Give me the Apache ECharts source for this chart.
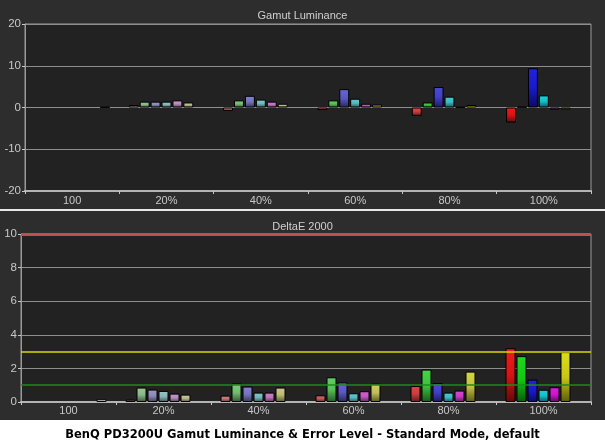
<!DOCTYPE html>
<html><head><meta charset="utf-8">
<script src="https://cdn.jsdelivr.net/npm/echarts@6/dist/echarts.min.js"></script>
<style>html,body{margin:0;padding:0;background:#2d2d2d;}#c{width:605px;height:441px;}</style>
</head><body><div id="c"></div>
<script>
// ---- data ----
const categories = ['100', '20%', '40%', '60%', '80%', '100%'];
const seriesNames = ['Red', 'Green', 'Blue', 'Cyan', 'Magenta', 'Yellow', 'White'];

// Gamut luminance error (%)
const lumRed     = [null, 0.6, -0.8, -0.6, -2.0, -3.6];
const lumGreen   = [null, 1.4, 1.7, 1.7, 1.2, 0.15];
const lumBlue    = [null, 1.4, 2.8, 4.4, 4.9, 9.4];
const lumCyan    = [null, 1.4, 1.9, 2.1, 2.6, 2.9];
const lumMagenta = [null, 1.7, 1.4, 0.9, 0.1, -0.5];
const lumYellow  = [null, 1.2, 0.9, 0.7, 0.6, -0.45];
const lumWhite   = [0.1, null, null, null, null, null];

// DeltaE 2000
const deRed     = [null, 0.14, 0.38, 0.40, 0.95, 3.20];
const deGreen   = [null, 0.86, 1.10, 1.47, 1.93, 2.73];
const deBlue    = [null, 0.74, 0.92, 1.17, 1.13, 1.33];
const deCyan    = [null, 0.66, 0.56, 0.52, 0.56, 0.73];
const deMagenta = [null, 0.50, 0.56, 0.64, 0.68, 0.88];
const deYellow  = [null, 0.44, 0.86, 1.09, 1.81, 2.97];
const deWhite   = [0.16, null, null, null, null, null];

const lumTicks = [-20, -10, 0, 10, 20];
const deThresholds = [1, 3, 10];

// ---- styling ----
const baseColors = [[215,20,20],[20,200,20],[25,25,205],[20,190,200],[205,20,205],[200,200,20],[230,230,230]];
const satLevel = [0, 0.26, 0.4, 0.58, 0.75, 1];
const grayBase = [178,178,178];
function rgb(a){return 'rgb('+a.map(v=>Math.round(Math.max(0,Math.min(255,v)))).join(',')+')';}
function barColor(si, ci){
  const b = baseColors[si];
  const t = si === 6 ? 1 : satLevel[ci];
  const c = b.map((v,k)=>grayBase[k]+(v-grayBase[k])*t);
  return {type:'linear',x:0,y:0,x2:0,y2:1,colorStops:[
    {offset:0,color:rgb(c.map(v=>v*1.05+8))},
    {offset:0.5,color:rgb(c)},
    {offset:1,color:rgb(c.map(v=>v*0.45))}]};
}
function build(arr, si){
  return arr.map((v,ci)=> v===null ? null : {value:v, itemStyle:{color:barColor(si,ci)}});
}

const lumSeries = [lumRed,lumGreen,lumBlue,lumCyan,lumMagenta,lumYellow,lumWhite];
const deSeries = [deRed,deGreen,deBlue,deCyan,deMagenta,deYellow,deWhite];

const font = 'Liberation Sans';
const labelColor = '#c8c8c8';
const series = [];
lumSeries.forEach((arr,si)=>{
  series.push({type:'bar', name:seriesNames[si], xAxisIndex:0, yAxisIndex:0,
    data:build(arr,si), barCategoryGap:'20%', barGap:'10%',
    itemStyle:{borderColor:'#000',borderWidth:1}, silent:true});
});
deSeries.forEach((arr,si)=>{
  const s = {type:'bar', name:seriesNames[si], xAxisIndex:1, yAxisIndex:1,
    data:build(arr,si), barCategoryGap:'20%', barGap:'10%',
    itemStyle:{borderColor:'#000',borderWidth:1}, silent:true};
  if(si===0){
    const cols = ['#1d8a1d','#d8d800','#c05050'];
    const widths = [1.5,1.5,3];
    s.markLine = {silent:true, symbol:'none', label:{show:false}, animation:false,
      data: deThresholds.map((v,i)=>({yAxis:v, lineStyle:{color:cols[i], width:widths[i], type:'solid'}}))};
  }
  series.push(s);
});

const chart = echarts.init(document.getElementById('c'));
chart.setOption({
  animation:false,
  backgroundColor:'#2d2d2d',
  title:[
    {text:'Gamut Luminance', left:'center', top:5, textStyle:{color:'#d0d0d0',fontSize:11,fontWeight:'normal',fontFamily:font}},
    {text:'DeltaE 2000', left:'center', top:216, textStyle:{color:'#d0d0d0',fontSize:11,fontWeight:'normal',fontFamily:font}},
    {text:'BenQ PD3200U Gamut Luminance & Error Level - Standard Mode, default', left:'center', top:424,
      textStyle:{color:'#000',fontSize:11.5,fontWeight:'bold',fontFamily:'DejaVu Sans'}}
  ],
  graphic:[
    {type:'rect', shape:{x:0,y:420,width:605,height:21}, style:{fill:'#ffffff'}, z:-10, silent:true},
    {type:'line', shape:{x1:0,y1:210,x2:605,y2:210}, style:{stroke:'#e8e8e8',lineWidth:2}, silent:true}
  ],
  grid:[
    {left:25, right:14, top:24, height:167, show:true, backgroundColor:'#222222', borderColor:'#9a9a9a', borderWidth:1},
    {left:21, right:14, top:234, height:168, show:true, backgroundColor:'#222222', borderColor:'#9a9a9a', borderWidth:1}
  ],
  xAxis:[
    {type:'category', gridIndex:0, data:categories, position:'bottom',
      axisLine:{onZero:false, lineStyle:{color:'#b4b4b4', width:2}},
      axisTick:{show:true, alignWithLabel:false, length:3, lineStyle:{color:'#c8c8c8'}},
      axisLabel:{color:labelColor, fontSize:11, fontFamily:font, margin:4}},
    {type:'category', gridIndex:1, data:categories, position:'bottom',
      axisLine:{onZero:false, lineStyle:{color:'#b4b4b4', width:2}},
      axisTick:{show:true, alignWithLabel:false, length:3, lineStyle:{color:'#c8c8c8'}},
      axisLabel:{color:labelColor, fontSize:11, fontFamily:font, margin:3}}
  ],
  yAxis:[
    {type:'value', gridIndex:0, min:lumTicks[0], max:lumTicks[lumTicks.length-1], interval:10,
      axisLine:{show:true, lineStyle:{color:'#9a9a9a'}},
      axisTick:{show:true, length:3, lineStyle:{color:'#c8c8c8'}},
      splitLine:{show:true, lineStyle:{color:'#8e8e8e', width:1}},
      axisLabel:{color:labelColor, fontSize:11.5, fontFamily:font, margin:4}},
    {type:'value', gridIndex:1, min:0, max:10, interval:2,
      axisLine:{show:true, lineStyle:{color:'#9a9a9a'}},
      axisTick:{show:true, length:3, lineStyle:{color:'#c8c8c8'}},
      splitLine:{show:true, lineStyle:{color:'#8e8e8e', width:1}},
      axisLabel:{color:labelColor, fontSize:11.5, fontFamily:font, margin:4}}
  ],
  series: series
});
</script></body></html>
